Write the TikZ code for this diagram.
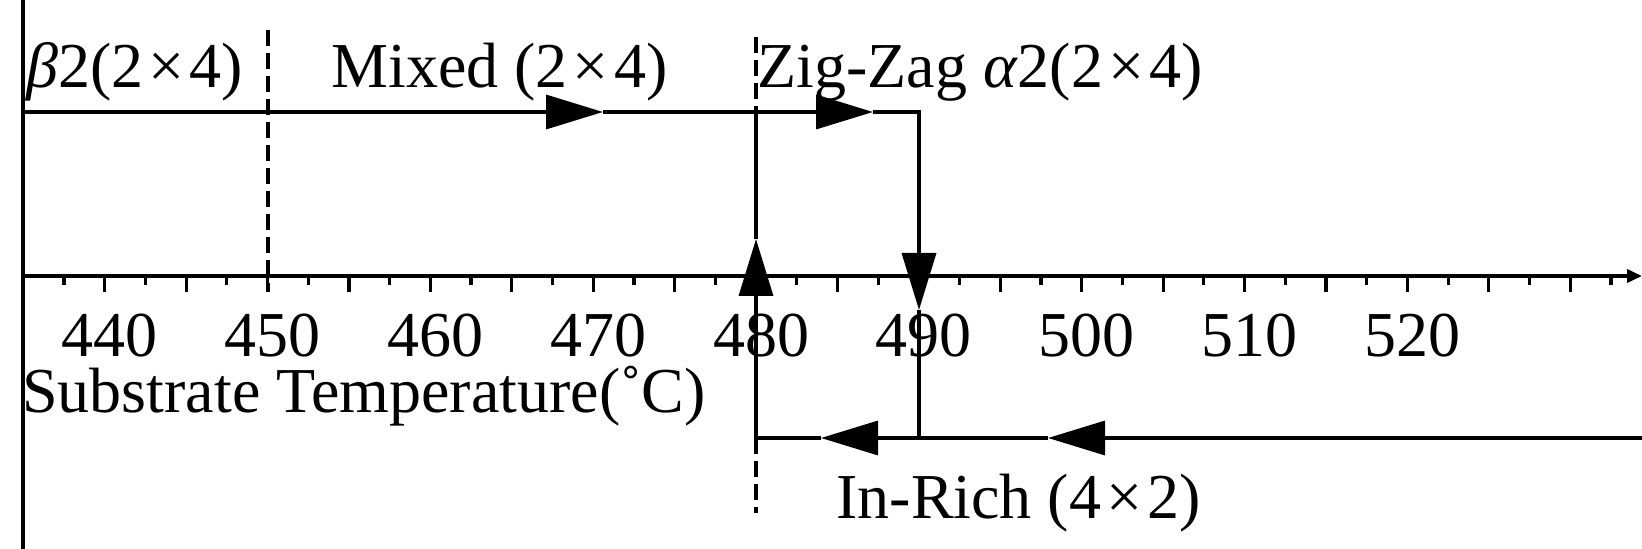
\documentclass[tikz,border=0pt]{standalone}
\usepackage{fontspec}
\setmainfont{Liberation Serif}
\usetikzlibrary{arrows.meta}
\newcommand{\tms}{\hspace{0.08em}×\hspace{0.08em}}
\begin{document}
\begin{tikzpicture}[x=0.5pt,y=-0.5pt,
  lbl/.style={inner sep=0pt, font=\fontsize{32}{38}\selectfont, anchor=base west},
  ticklbl/.style={inner sep=0pt, font=\fontsize{32}{38}\selectfont, anchor=base, text depth=0pt},
  axisline/.style={line width=1.8pt},
  flow/.style={line width=1.7pt, line join=miter},
  flowv/.style={line width=1.6pt},
  tickline/.style={line width=1.6pt},
  dashline/.style={line width=1.6pt, dash pattern=on 8pt off 3.5pt},
  bigtip/.style={-{Triangle[length=28.5pt,width=17pt]}},
  axtip/.style={-{Triangle[length=7.5pt,width=6.5pt]}},
  ]
\useasboundingbox (0,0) rectangle (1642,549);

% coordinates
\coordinate (ytop) at (23,0);
\coordinate (ybot) at (23,549);
\coordinate (O) at (21.3,276);
\coordinate (E) at (1642,276);
\coordinate (t0) at (23,112);
\coordinate (ta1) at (603,112);
\coordinate (ta2) at (873,112);
\coordinate (t490) at (919,112);
\coordinate (d490) at (919,310);
\coordinate (b490) at (919,438);
\coordinate (t480) at (756,112);
\coordinate (u480) at (756,239);
\coordinate (b480) at (756,438);
\coordinate (bR) at (1642,438);
\coordinate (ba1) at (1048,438);
\coordinate (ba2) at (821,438);
\coordinate (d450a) at (268,30);
\coordinate (d450b) at (268,292);
\coordinate (d480a) at (756,37);
\coordinate (d480b) at (756,513);

% axes
\draw[axisline] (ytop) -- (ybot);
\draw[axisline, axtip] (O) -- (E);
\foreach \k in {0,...,38}{
  \pgfmathsetmacro\xx{104.7+40.71*(\k-1)}
  \pgfmathsetmacro\len{isodd(\k) ? 16 : 9}
  \draw[tickline] (\xx,276) -- (\xx,276+\len);
}
\foreach \t [count=\i from 0] in {440,450,...,520}{
  \node[ticklbl] (tl\t) at ({109.7+162.84*\i},357) {\t};
}
\node[lbl, text height=0.68em] (xlabel) at (22,413) {Substrate Temperature(˚C)};

% dashed boundaries
\draw[dashline] (d450a) -- (d450b);
\draw[dashline] (d480a) -- (t480);
\draw[dashline] (b480) -- (d480b);

% heating path
\draw[flow, bigtip] (t0) -- (ta1);
\draw[flow, bigtip] (ta1) -- (ta2);
\draw[flow, bigtip] (ta2) -- (t490) -- (d490);
\draw[flowv] (d490) -- (b490);

% cooling path
\draw[flow, bigtip] (bR) -- (ba1);
\draw[flow, bigtip] (ba1) -- (ba2);
\draw[flow, bigtip] (ba2) -- (b480) -- (u480);
\draw[flowv] (u480) -- (t480);

% phase labels
\node[lbl] (beta) at (26,88) {\textit{β}2(2\tms4)};
\node[lbl] (mixed) at (331,88) {Mixed (2\tms4)};
\node[lbl] (zigzag) at (757,88) {Zig-Zag \textit{α}2(2\tms4)};
\node[lbl] (inrich) at (836,518) {In-Rich (4\tms2)};
\end{tikzpicture}
\end{document}
